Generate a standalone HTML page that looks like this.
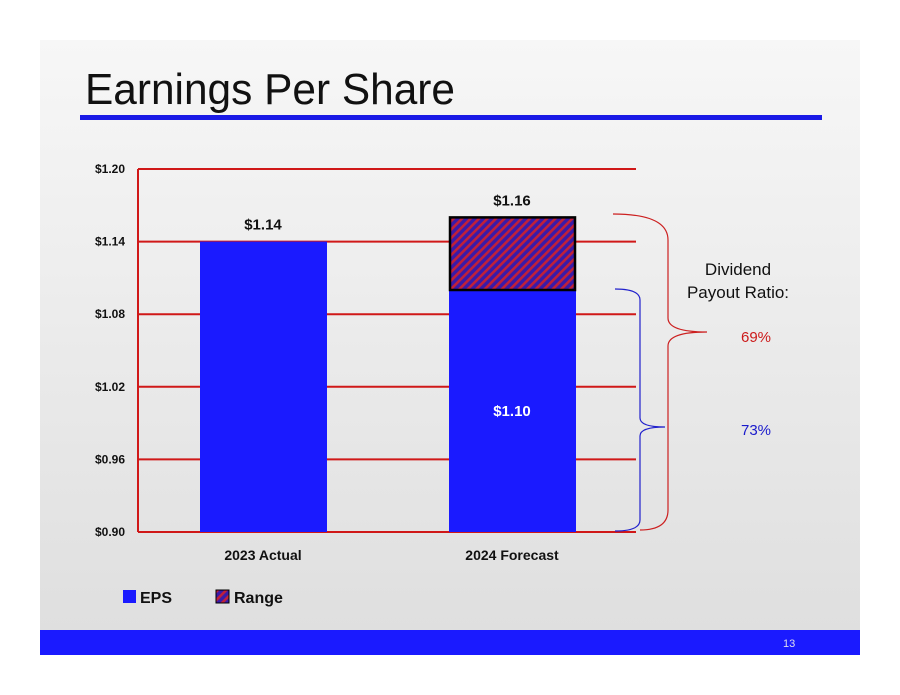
<!DOCTYPE html>
<html><head><meta charset="utf-8"><style>
body{margin:0;width:900px;height:695px;background:#fff;overflow:hidden}
svg{display:block;font-family:"Liberation Sans",sans-serif}
</style></head><body>
<svg width="900" height="695" viewBox="0 0 900 695">
<defs>
<linearGradient id="bg" x1="0" y1="0" x2="0" y2="1"><stop offset="0" stop-color="#f7f7f7"/><stop offset="1" stop-color="#dedede"/></linearGradient>
<pattern id="hatch" width="6" height="6" patternUnits="userSpaceOnUse" patternTransform="rotate(-45)">
<rect width="6" height="6" fill="#3a1aa8"/><rect width="6" height="2.6" fill="#c0203a"/></pattern>
</defs>
<rect x="40" y="40" width="820" height="615" fill="url(#bg)"/>
<text x="85" y="104" font-size="44" textLength="370" lengthAdjust="spacingAndGlyphs" fill="#111">Earnings Per Share</text>
<rect x="80" y="115" width="742" height="5" fill="#1a1ae6"/>
<g id="chart"></g>
<path d="M613,214 Q668,214 668,240 L668,318 Q668,332 707,332 Q668,332 668,346 L668,510 Q668,530 640,530" fill="none" stroke="#cc2020" stroke-width="1.2"/>
<path d="M615,289 Q640,289 640,300 L640,418 Q640,427 665,427 Q640,427 640,436 L640,520 Q640,531 615,531" fill="none" stroke="#2020cc" stroke-width="1.2"/>
<text x="738" y="275" font-size="17" text-anchor="middle" fill="#111">Dividend</text>
<text x="738" y="298" font-size="17" text-anchor="middle" fill="#111">Payout Ratio:</text>
<text x="756" y="342" font-size="15" text-anchor="middle" fill="#cc1a1a">69%</text>
<text x="756" y="435" font-size="15" text-anchor="middle" fill="#1a1acc">73%</text>
<rect x="123" y="590" width="13" height="13" fill="#1a1aff"/>
<text x="140" y="603" font-size="16" font-weight="bold" fill="#111">EPS</text>
<rect x="216" y="590" width="13" height="13" fill="url(#hatch)" stroke="#000" stroke-width="1"/>
<text x="234" y="603" font-size="16" font-weight="bold" fill="#111">Range</text>
<rect x="40" y="630" width="820" height="25" fill="#1a1aff"/>
<text x="783" y="647" font-size="11" fill="#dde">13</text>
</svg>
<script>
const categories=["2023 Actual","2024 Forecast"];
const epsValues=[1.14,1.10];
const rangeTop=[null,1.16];
const topLabels=["$1.14","$1.16"];
const innerLabels=[null,"$1.10"];
const ticks=[0.90,0.96,1.02,1.08,1.14,1.20];
const tickLabels=["$0.90","$0.96","$1.02","$1.08","$1.14","$1.20"];
const NS="http://www.w3.org/2000/svg";
const g=document.getElementById('chart');
const y=v=>532-(v-0.90)/0.30*363;
const xc=i=>263+i*249;
function mk(t,a,p){const e=document.createElementNS(NS,t);for(const k in a)e.setAttribute(k,a[k]);(p||g).appendChild(e);return e;}
ticks.forEach((t,i)=>{
 const l=mk('line',{x1:138,x2:636,y1:y(t),y2:y(t),stroke:'#d01818','stroke-width':2});
 
 
 const tx=mk('text',{x:125,y:y(t)+4,'font-size':12,'font-weight':'bold','text-anchor':'end',fill:'#111'});
 tx.textContent=tickLabels[i];
 
 
});
const ax=mk('line',{x1:138,x2:138,y1:y(1.20),y2:y(0.90),stroke:'#d01818','stroke-width':2});


categories.forEach((c,i)=>{
 const b=mk('rect',{x:xc(i)-63,y:y(epsValues[i]),width:127,height:y(0.90)-y(epsValues[i]),fill:'#1a1aff'});
 
 
 let top=epsValues[i];
 if(rangeTop[i]!=null){
  const r=mk('rect',{x:xc(i)-62,y:y(rangeTop[i]),width:125,height:y(epsValues[i])-y(rangeTop[i]),fill:'url(#hatch)',stroke:'#000','stroke-width':2.5});
  
  
  top=rangeTop[i];
 }
 const tl=mk('text',{x:xc(i),y:y(top)-12,'font-size':15,'font-weight':'bold','text-anchor':'middle',fill:'#111'});
 tl.textContent=topLabels[i];
 
 
 if(innerLabels[i]){
  const il=mk('text',{x:xc(i),y:(y(epsValues[i])+y(0.90))/2+5,'font-size':15,'font-weight':'bold','text-anchor':'middle',fill:'#fff'});
  il.textContent=innerLabels[i];
  
  
 }
 const cl=mk('text',{x:xc(i),y:560,'font-size':14,'font-weight':'bold','text-anchor':'middle',fill:'#111'});
 cl.textContent=c;
 
 
});
</script>
</body></html>
